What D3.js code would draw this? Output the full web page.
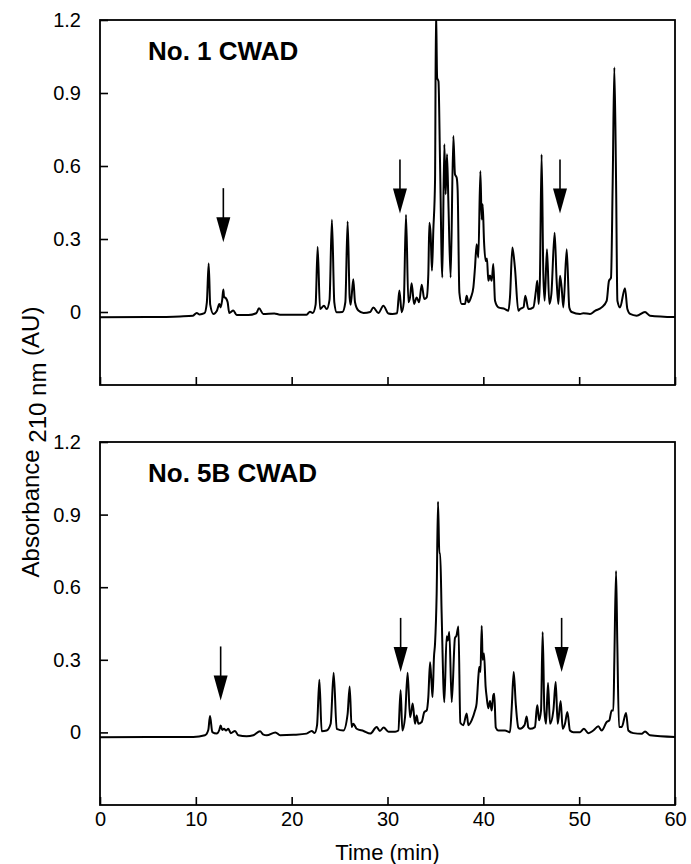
<!DOCTYPE html>
<html>
<head>
<meta charset="utf-8">
<script src="https://cdn.jsdelivr.net/npm/d3@7"></script>
<style>
  html, body { margin: 0; padding: 0; background: #fff; }
  svg { display: block; }
  text { font-family: "Liberation Sans", Arial, Helvetica, sans-serif; fill: #000; }
</style>
</head>
<body>
<svg id="chart" width="691" height="864"></svg>
<script>
// ---- Data ----
const xTicks = [0, 10, 20, 30, 40, 50, 60];
const yTicks = [0, 0.3, 0.6, 0.9, 1.2];
const yTickLabels = ["0", "0.3", "0.6", "0.9", "1.2"];
const panelTitles = ["No. 1 CWAD", "No. 5B CWAD"];

// [time (min), absorbance (AU)]
const traceNo1 = [
  [0,-0.022],[5,-0.021],[8.35,-0.018],[9.7,-0.015],[10.09,-0.004],[10.4,-0.01],[10.9,-0.005],
  [11.15,0.04],[11.34,0.199],[11.5,0.03],[11.83,-0.008],[12.2,0.005],[12.45,0.033],[12.59,0.019],
  [12.75,0.05],[12.87,0.092],[12.95,0.06],[13.04,0.06],[13.15,0.056],[13.32,0.04],[13.49,-0.004],
  [13.91,0.006],[14.26,-0.012],[15.48,-0.012],[16.3,-0.005],[16.59,0.015],[17.04,-0.008],
  [18.19,-0.006],[18.78,-0.011],[21.56,-0.011],[21.91,0.001],[22.2,-0.004],[22.5,0.03],
  [22.71,0.268],[22.96,0.012],[23.37,0.026],[23.65,0.012],[23.95,0.05],[24.2,0.379],[24.45,0.04],
  [24.7,-0.001],[25.3,0.0],[25.6,0.04],[25.84,0.372],[26.05,0.06],[26.16,0.03],[26.43,0.135],
  [26.61,0.04],[26.96,0.006],[27.5,-0.004],[28.2,0.0],[28.52,0.019],[29.05,-0.004],[29.57,0.026],
  [30.09,-0.006],[30.5,-0.008],[31.0,-0.005],[31.24,0.088],[31.48,-0.001],[31.7,0.04],[31.93,0.40],
  [32.18,0.04],[32.35,0.06],[32.52,0.118],[32.77,0.033],[33.04,0.06],[33.3,0.04],[33.57,0.112],
  [33.84,0.053],[34.09,0.06],[34.26,0.156],[34.37,0.367],[34.5,0.32],[34.64,0.17],[34.78,0.334],
  [34.96,0.538],[35.06,1.25],[35.18,0.962],[35.32,0.948],[35.48,0.62],[35.72,0.142],[35.93,0.689],
  [36.07,0.484],[36.21,0.648],[36.35,0.456],[36.59,0.142],[36.87,0.723],[37.04,0.566],[37.22,0.552],
  [37.32,0.5],[37.5,0.08],[37.74,0.033],[38.09,0.033],[38.26,0.067],[38.44,0.04],[38.71,0.06],
  [38.96,0.101],[39.13,0.183],[39.3,0.278],[39.48,0.224],[39.69,0.579],[39.83,0.38],[39.93,0.443],
  [40.07,0.292],[40.24,0.21],[40.38,0.22],[40.52,0.128],[40.69,0.15],[40.87,0.128],[41.04,0.197],
  [41.22,0.046],[41.57,0.019],[42.26,0.012],[42.61,0.005],[42.78,0.06],[43.03,0.265],[43.3,0.18],
  [43.65,0.005],[43.83,0.012],[44.2,0.02],[44.38,0.067],[44.7,0.012],[45.22,0.019],[45.49,0.088],
  [45.63,0.128],[45.77,0.033],[45.9,0.128],[46.08,0.647],[46.26,0.156],[46.4,0.046],[46.64,0.258],
  [46.89,0.033],[47.1,0.074],[47.44,0.326],[47.65,0.128],[47.83,0.033],[48.0,0.149],[48.17,0.1],
  [48.35,0.019],[48.7,0.258],[48.97,0.019],[49.22,0.0],[50.09,-0.008],[50.43,-0.005],[51.13,-0.008],
  [51.65,0.005],[52.35,0.019],[52.87,0.046],[53.11,0.128],[53.32,0.14],[53.5,0.538],[53.67,1.005],
  [53.85,0.538],[53.99,0.046],[54.26,0.019],[54.78,0.098],[55.03,0.012],[55.31,-0.008],[56.0,-0.015],
  [56.87,0.0],[57.39,-0.015],[60,-0.021]
];

const traceNo5B = [
  [0,-0.02],[8.35,-0.019],[9.74,-0.019],[10.95,-0.012],[11.3,0.01],[11.48,0.068],[11.72,0.001],
  [12.17,-0.005],[12.45,0.01],[12.59,0.029],[12.76,0.01],[12.94,0.015],[13.15,0.008],[13.39,0.015],
  [13.64,-0.003],[14.09,0.006],[14.43,-0.012],[15.3,-0.016],[16.0,-0.012],[16.7,0.005],[17.0,-0.008],
  [17.4,-0.012],[18.3,0.0],[18.8,-0.012],[20.2,-0.01],[21.56,-0.005],[22.09,0.006],[22.4,-0.002],
  [22.65,0.03],[22.89,0.218],[23.13,0.005],[23.65,0.008],[24.07,0.036],[24.38,0.247],[24.7,0.015],
  [25.4,0.008],[25.84,0.077],[26.05,0.19],[26.26,0.022],[26.43,0.036],[26.78,0.015],[27.5,0.006],
  [28.2,-0.005],[28.87,0.022],[29.2,0.006],[29.6,0.02],[30.1,0.003],[30.8,0.003],
  [31.13,0.008],[31.37,0.174],[31.55,0.008],[31.83,0.063],[32.1,0.247],[32.35,0.063],[32.5,0.09],
  [32.63,0.119],[32.87,0.036],[33.04,0.07],[33.22,0.036],[33.57,0.043],[33.84,0.084],[34.09,0.091],
  [34.26,0.146],[34.44,0.29],[34.6,0.2],[34.7,0.146],[34.85,0.312],[34.96,0.367],[35.13,0.574],
  [35.27,0.953],[35.41,0.74],[35.5,0.74],[35.65,0.49],[35.93,0.125],[36.17,0.397],[36.3,0.38],
  [36.45,0.415],[36.7,0.125],[37.04,0.39],[37.2,0.4],[37.4,0.438],[37.6,0.04],[37.91,0.03],
  [38.26,0.078],[38.44,0.03],[38.78,0.05],[39.13,0.09],[39.3,0.12],[39.5,0.24],[39.58,0.27],
  [39.7,0.25],[39.83,0.44],[39.93,0.3],[40.07,0.326],[40.24,0.188],[40.35,0.146],[40.52,0.1],
  [40.7,0.13],[40.87,0.09],[41.04,0.153],[41.14,0.16],[41.3,0.02],[41.57,0.008],[42.26,0.008],
  [42.78,0.001],[42.96,0.1],[43.17,0.25],[43.38,0.12],[43.65,0.02],[43.83,0.015],[44.3,0.03],
  [44.52,0.066],[44.7,0.02],[44.87,0.015],[45.39,0.022],[45.55,0.09],[45.64,0.112],[45.81,0.05],
  [46.02,0.091],[46.19,0.415],[46.37,0.091],[46.54,0.036],[46.75,0.204],[46.96,0.036],[47.31,0.091],
  [47.55,0.208],[47.76,0.036],[48.07,0.13],[48.28,0.015],[48.52,0.036],[48.77,0.084],[49.04,0.008],
  [49.39,0.001],[50.09,0.001],[50.5,0.015],[50.96,-0.003],[51.48,0.008],[52.0,0.025],[52.35,0.008],
  [52.87,0.043],[53.15,0.05],[53.39,0.091],[53.57,0.091],[53.67,0.298],[53.85,0.667],[53.98,0.367],
  [54.16,0.022],[54.44,0.022],[54.89,0.08],[55.13,0.008],[55.65,-0.003],[56.52,-0.006],[56.87,0.004],
  [57.39,-0.012],[60,-0.019]
];

// arrow markers: [time of arrow, absorbance at arrow tip]
const arrowsNo1 = [[12.87, 0.287], [31.3, 0.405], [48.0, 0.405]];
const arrowsNo5B = [[12.59, 0.132], [31.37, 0.25], [48.17, 0.25]];

// ---- Drawing ----
const svg = d3.select("#chart");
const left = 100, right = 675;
const panels = [
  { top: 20, bottom: 385, title: panelTitles[0], data: traceNo1, arrows: arrowsNo1, xLabels: false },
  { top: 442, bottom: 805, title: panelTitles[1], data: traceNo5B, arrows: arrowsNo5B, xLabels: true }
];

const x = d3.scaleLinear().domain([0, 60]).range([left, right]);

panels.forEach((p, i) => {
  const y = d3.scaleLinear().domain([-0.3, 1.2]).range([p.bottom, p.top]);
  const g = svg.append("g");

  const clipId = "clip" + i;
  svg.append("clipPath").attr("id", clipId)
    .append("rect").attr("x", left).attr("y", p.top).attr("width", right - left).attr("height", p.bottom - p.top);

  // trace
  const line = d3.line().x(d => x(d[0])).y(d => y(d[1])).curve(d3.curveMonotoneX);
  g.append("path").datum(p.data)
    .attr("clip-path", `url(#${clipId})`)
    .attr("d", line)
    .attr("fill", "none").attr("stroke", "#000").attr("stroke-width", 2)
    .attr("stroke-linejoin", "round");

  // arrows
  const arrowLen = 54, headLen = 25, headHalf = 7;
  p.arrows.forEach(a => {
    const ax = x(a[0]), tip = y(a[1]);
    g.append("line").attr("x1", ax).attr("x2", ax)
      .attr("y1", tip - arrowLen).attr("y2", tip - headLen + 2)
      .attr("stroke", "#000").attr("stroke-width", 1.6);
    g.append("path")
      .attr("d", `M${ax - headHalf},${tip - headLen} L${ax + headHalf},${tip - headLen} L${ax},${tip} Z`)
      .attr("fill", "#000");
  });

  // frame
  g.append("rect").attr("x", left).attr("y", p.top)
    .attr("width", right - left).attr("height", p.bottom - p.top)
    .attr("fill", "none").attr("stroke", "#000").attr("stroke-width", 1.8);

  // x axis (ticks inward)
  const xAxis = d3.axisBottom(x).tickValues(xTicks).tickSize(-8).tickPadding(7)
    .tickFormat(p.xLabels ? d3.format("d") : () => "");
  const gx = g.append("g").attr("transform", `translate(0,${p.bottom})`).call(xAxis);
  gx.select(".domain").remove();
  gx.selectAll(".tick line").attr("stroke", "#000").attr("stroke-width", 1.6);
  gx.selectAll(".tick text").attr("font-size", 20).attr("font-family", "Liberation Sans, Arial, sans-serif");

  // y axis (ticks inward)
  const yAxis = d3.axisLeft(y).tickValues(yTicks).tickSize(-8).tickPadding(19)
    .tickFormat((d, j) => yTickLabels[j]);
  const gy = g.append("g").attr("transform", `translate(${left},0)`).call(yAxis);
  gy.select(".domain").remove();
  gy.selectAll(".tick line").attr("stroke", "#000").attr("stroke-width", 1.6);
  gy.selectAll(".tick text").attr("font-size", 20).attr("font-family", "Liberation Sans, Arial, sans-serif");

  // title
  g.append("text").attr("x", 148).attr("y", p.top + 40)
    .attr("font-size", 26).attr("font-weight", "bold").text(p.title);
});

// axis titles
svg.append("text").attr("x", x(30)).attr("y", 860).attr("text-anchor", "middle")
  .attr("font-size", 22).text("Time (min)");

const yl = svg.append("text").attr("transform", "translate(39,442) rotate(-90)")
  .attr("text-anchor", "middle").attr("font-size", 24);
yl.append("tspan").text("Absorbance ");
yl.append("tspan").attr("dy", 7).text("210 nm");
yl.append("tspan").attr("dy", -7).text(" (AU)");
</script>
</body>
</html>
